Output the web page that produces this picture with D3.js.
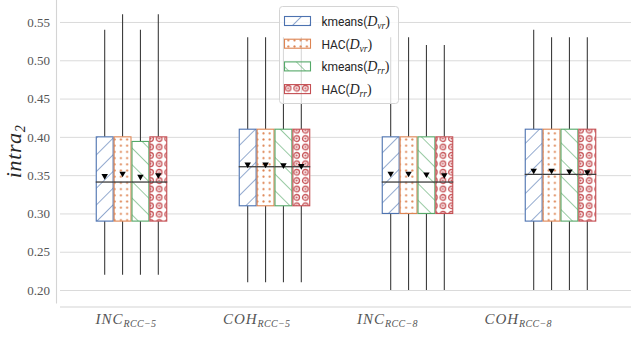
<!DOCTYPE html>
<html>
<head>
<meta charset="utf-8">
<script src="https://cdn.jsdelivr.net/npm/d3@7/dist/d3.min.js"></script>
<style>
  body { margin: 0; background: #fff; }
  svg { display: block; }
</style>
</head>
<body>
<div id="chart"></div>
<script>
var width = 631,
    height = 337;

// categories on the x axis
var categories = ["INC_RCC-5", "COH_RCC-5", "INC_RCC-8", "COH_RCC-8"];
var catMain = ["INC", "COH", "INC", "COH"];
var catSub = ["RCC\u22125", "RCC\u22125", "RCC\u22128", "RCC\u22128"];

// hue series
var series = ["kmeans_vr", "HAC_vr", "kmeans_rr", "HAC_rr"];
var seriesName = ["kmeans", "HAC", "kmeans", "HAC"];
var seriesSub = ["vr", "vr", "rr", "rr"];
var colors = ["#4c72b0", "#dd8452", "#55a868", "#c44e52"];

// box stats, one row per series, one column per category
var whiskerHigh = [
  [0.54, 0.53, 0.53, 0.54],
  [0.56, 0.53, 0.53, 0.53],
  [0.54, 0.53, 0.52, 0.53],
  [0.56, 0.53, 0.52, 0.53]];
var q3 = [
  [0.40, 0.41, 0.40, 0.41],
  [0.40, 0.41, 0.40, 0.41],
  [0.394, 0.41, 0.40, 0.41],
  [0.40, 0.41, 0.40, 0.41]];
var medians = [
  [0.341, 0.361, 0.341, 0.351],
  [0.341, 0.361, 0.341, 0.351],
  [0.341, 0.361, 0.341, 0.351],
  [0.341, 0.361, 0.341, 0.351]];
var q1 = [
  [0.29, 0.31, 0.30, 0.29],
  [0.29, 0.31, 0.30, 0.29],
  [0.29, 0.31, 0.30, 0.29],
  [0.29, 0.31, 0.30, 0.29]];
var whiskerLow = [
  [0.22, 0.21, 0.20, 0.20],
  [0.22, 0.21, 0.20, 0.20],
  [0.22, 0.21, 0.20, 0.20],
  [0.22, 0.21, 0.20, 0.20]];
var means = [
  [0.349, 0.364, 0.352, 0.356],
  [0.352, 0.364, 0.352, 0.356],
  [0.348, 0.363, 0.351, 0.355],
  [0.350, 0.362, 0.350, 0.354]];

var yTicks = [0.20, 0.25, 0.30, 0.35, 0.40, 0.45, 0.50, 0.55];

var plotLeft = 60, plotRight = 632, plotTop = 0, plotBottom = 303.5;

var x = d3.scaleBand().domain(categories).range([plotLeft, plotRight]);
var hue = d3.scaleBand().domain(series).range([0, x.bandwidth() * 0.5]);
var xLabel = d3.scaleBand().domain(categories).range([60.5, 583.5]);
var y = d3.scaleLinear().domain([0.1824, 0.5787]).range([plotBottom, plotTop]);

var boxes = [];
series.forEach(function(s, i) {
  categories.forEach(function(c, j) {
    boxes.push({
      s: s, si: i, c: c,
      lo: whiskerLow[i][j], q1: q1[i][j], med: medians[i][j],
      q3: q3[i][j], hi: whiskerHigh[i][j], mean: means[i][j]
    });
  });
});

var svg = d3.select("#chart").append("svg")
    .attr("width", width)
    .attr("height", height);

// hatch patterns
var defs = svg.append("defs");
var sp = 16.7 / Math.SQRT2;
[["hatch0", 45, colors[0]], ["hatch2", -45, colors[2]]].forEach(function(h) {
  var p = defs.append("pattern")
      .attr("id", h[0])
      .attr("patternUnits", "userSpaceOnUse")
      .attr("width", sp).attr("height", sp)
      .attr("patternTransform", "rotate(" + h[1] + ")");
  p.append("line")
      .attr("x1", 0).attr("y1", -1).attr("x2", 0).attr("y2", sp + 1)
      .attr("stroke", h[2]).attr("stroke-width", 1.2);
});
var dots = defs.append("pattern")
    .attr("id", "hatch1")
    .attr("patternUnits", "userSpaceOnUse")
    .attr("width", 6.2).attr("height", 6.2);
dots.append("circle")
    .attr("cx", 3.1).attr("cy", 3.1).attr("r", 1.05)
    .attr("fill", colors[1]);
var rings = defs.append("pattern")
    .attr("id", "hatch3")
    .attr("patternUnits", "userSpaceOnUse")
    .attr("width", 8.6).attr("height", 8.4);
rings.append("circle")
    .attr("cx", 4.3).attr("cy", 4.2).attr("r", 2.8)
    .attr("fill", "none").attr("stroke", colors[3]).attr("stroke-width", 1.3);
rings.append("circle")
    .attr("cx", 4.3).attr("cy", 4.2).attr("r", 1)
    .attr("fill", colors[3]);

// grid + y tick labels
var yAxis = svg.append("g")
    .attr("transform", "translate(" + plotLeft + ",0)")
    .call(d3.axisLeft(y).tickValues(yTicks).tickFormat(d3.format(".2f"))
      .tickSize(-(width - plotLeft)).tickPadding(10));
yAxis.select(".domain").remove();
yAxis.selectAll(".tick line").attr("stroke", "#dadada").attr("stroke-width", 1);
yAxis.selectAll(".tick text")
    .attr("fill", "#555")
    .attr("font-family", "Liberation Serif")
    .style("font-family", "'Liberation Serif', serif")
    .style("font-size", "13px");

// spines, offset a little like seaborn despine
svg.append("line")
    .attr("x1", 56.5).attr("x2", 56.5).attr("y1", plotTop).attr("y2", plotBottom)
    .attr("stroke", "#d4d4d4").attr("stroke-width", 1.1);
svg.append("line")
    .attr("x1", plotLeft).attr("x2", width).attr("y1", 307).attr("y2", 307)
    .attr("stroke", "#d4d4d4").attr("stroke-width", 1.1);

// x tick labels
var xAxis = svg.append("g")
    .attr("transform", "translate(0," + plotBottom + ")")
    .call(d3.axisBottom(xLabel).tickSize(0).tickFormat(""));
xAxis.select(".domain").remove();
xAxis.selectAll(".tick").each(function(c, i) {
  var t = d3.select(this).append("text")
      .attr("y", 20.5)
      .attr("text-anchor", "middle")
      .attr("fill", "#555")
      .style("font-family", "'Liberation Serif', serif")
      .style("font-style", "italic");
  t.append("tspan").style("font-size", "15px").style("letter-spacing", "1px").text(catMain[i]);
  t.append("tspan").attr("dy", 3).style("font-size", "10px").style("letter-spacing", "0.3px").text(catSub[i]);
});

// y label
var yl = svg.append("text")
    .attr("transform", "translate(20.5," + (plotBottom / 2) + ") rotate(-90)")
    .attr("text-anchor", "middle")
    .attr("fill", "#262626")
    .style("font-family", "'Liberation Serif', serif")
    .style("font-style", "italic");
yl.append("tspan").style("font-size", "22px").style("letter-spacing", "0.6px").text("intra");
yl.append("tspan").attr("dy", 4).style("font-size", "14px").text("2");

// boxes
var bw = hue.bandwidth();
var bx = function(d) { return x(d.c) + x.bandwidth() * 0.25 + hue(d.s); };
var g = svg.append("g");

g.selectAll(".whisker-hi").data(boxes).enter().append("line")
    .attr("x1", function(d) { return bx(d) + bw / 2; })
    .attr("x2", function(d) { return bx(d) + bw / 2; })
    .attr("y1", function(d) { return y(d.q3); })
    .attr("y2", function(d) { return y(d.hi); })
    .attr("stroke", "#3d3d3d").attr("stroke-width", 1.1);
g.selectAll(".whisker-lo").data(boxes).enter().append("line")
    .attr("x1", function(d) { return bx(d) + bw / 2; })
    .attr("x2", function(d) { return bx(d) + bw / 2; })
    .attr("y1", function(d) { return y(d.q1); })
    .attr("y2", function(d) { return y(d.lo); })
    .attr("stroke", "#3d3d3d").attr("stroke-width", 1.1);

g.selectAll(".boxbg").data(boxes).enter().append("rect")
    .attr("x", bx)
    .attr("width", bw)
    .attr("y", function(d) { return y(d.q3); })
    .attr("height", function(d) { return y(d.q1) - y(d.q3); })
    .attr("fill", "#fff");
g.selectAll(".box").data(boxes).enter().append("rect")
    .attr("x", function(d) { return bx(d) + 0.5; })
    .attr("width", bw - 1)
    .attr("y", function(d) { return y(d.q3); })
    .attr("height", function(d) { return y(d.q1) - y(d.q3); })
    .attr("fill", function(d) { return "url(#hatch" + d.si + ")"; })
    .attr("stroke", function(d) { return colors[d.si]; })
    .attr("stroke-width", 1.1);

g.selectAll(".median").data(boxes).enter().append("line")
    .attr("x1", bx)
    .attr("x2", function(d) { return bx(d) + bw; })
    .attr("y1", function(d) { return y(d.med); })
    .attr("y2", function(d) { return y(d.med); })
    .attr("stroke", "#3d3d3d").attr("stroke-width", 1.3);

var tri = d3.symbol().type(d3.symbolTriangle).size(18);
g.selectAll(".mean").data(boxes).enter().append("path")
    .attr("d", tri)
    .attr("transform", function(d) {
      return "translate(" + (bx(d) + bw / 2) + "," + y(d.mean) + ") rotate(180)";
    })
    .attr("fill", "#000");

// legend
var lg = svg.append("g");
lg.append("rect")
    .attr("x", 279.5).attr("y", 6.5).attr("width", 119).attr("height", 97)
    .attr("rx", 3)
    .attr("fill", "#fff").attr("fill-opacity", 0.8)
    .attr("stroke", "#d4d4d4");
series.forEach(function(s, i) {
  var cy = 21 + i * 22.7;
  lg.append("rect")
      .attr("x", 284.5).attr("y", cy - 4.5).attr("width", 26).attr("height", 9)
      .attr("fill", "url(#hatch" + i + ")")
      .attr("stroke", colors[i]).attr("stroke-width", 1.1);
  var t = lg.append("text")
      .attr("x", 321.5).attr("y", cy + 5)
      .attr("fill", "#262626");
  t.append("tspan").style("font-family", "Roboto, 'DejaVu Sans', sans-serif")
      .style("font-size", "12px").style("letter-spacing", "-0.1px").text(seriesName[i] + "(");
  t.append("tspan").style("font-family", "'Liberation Serif', serif")
      .style("font-style", "italic").style("font-size", "14px").text("D");
  t.append("tspan").attr("dy", 3).style("font-family", "'Liberation Serif', serif")
      .style("font-style", "italic").style("font-size", "9.5px").text(seriesSub[i]);
  t.append("tspan").attr("dy", -3).style("font-family", "'Liberation Serif', serif")
      .style("font-size", "14px").text(")");
});
</script>
</body>
</html>
